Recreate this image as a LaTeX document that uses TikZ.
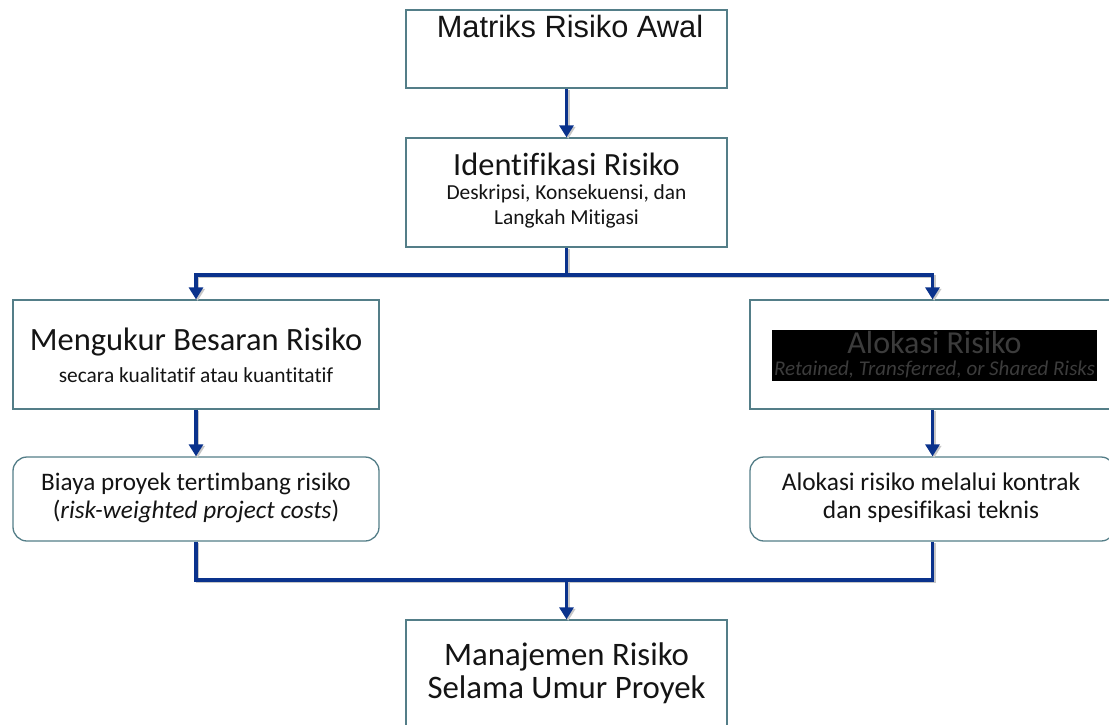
\documentclass[tikz,border=0pt]{standalone}
\usepackage{fontspec}
\setmainfont{Carlito}[Ligatures={NoCommon}]
\newfontfamily\arialfont{Liberation Sans}
\usetikzlibrary{arrows.meta}
\definecolor{flowblue}{RGB}{10,50,140}
\definecolor{boxline}{RGB}{84,126,136}
\definecolor{inktext}{RGB}{20,20,20}
\definecolor{ghost}{RGB}{60,60,60}
\tikzset{
  box/.style={draw=boxline, line width=1.3pt, fill=white, inner sep=0pt},
  rbox/.style={box, rounded corners=14pt},
  flow/.style={draw=flowblue, line width=3.6pt,
    preaction={draw=black!22, line width=3.6pt, transform canvas={shift={(1.6pt,-1.6pt)}}}},
  tip/.style={-{Triangle[length=12pt,width=14pt]}},
  txt/.style={text=inktext, align=center, inner sep=0pt},
}
\begin{document}
\begin{tikzpicture}[x=1pt,y=-1pt]
\useasboundingbox (0,0) rectangle (1109,724);

% boxes
\node[box, minimum width=321pt, minimum height=78pt] (m1) at (566.5,49) {};
\node[txt, font=\arialfont\fontsize{30.8}{34}\selectfont, anchor=base] (t1) at (570,37) {Matriks Risiko Awal};

\node[box, minimum width=321pt, minimum height=109pt] (m2) at (566.5,192.5) {};
\node[txt, font=\fontsize{32.4}{34}\selectfont] (t2) at (566.5,164) {Identifikasi Risiko};
\node[txt, font=\fontsize{21.4}{25}\selectfont] (t2b) at (566.5,206) {Deskripsi, Konsekuensi, dan\\Langkah Mitigasi};

\node[box, minimum width=366pt, minimum height=109pt] (m3) at (196,354.5) {};
\node[txt, font=\fontsize{32.5}{34}\selectfont] (t3) at (196,342) {Mengukur Besaran Risiko};
\node[txt, font=\fontsize{21.4}{24}\selectfont] (t3b) at (196,375) {secara kualitatif atau kuantitatif};

\node[box, minimum width=365pt, minimum height=109pt] (m4) at (932.5,354.5) {};
\fill[black] (772,330) rectangle (1097,381);
\node[txt, text=ghost, font=\fontsize{32}{34}\selectfont] (t4) at (934.5,342) {Alokasi Risiko};
\node[txt, text=ghost, font=\itshape\fontsize{21}{24}\selectfont] (t4b) at (934.5,370) {Retained, Transferred, or Shared Risks};

\node[rbox, minimum width=366pt, minimum height=84pt] (r1) at (196,499) {};
\node[txt, font=\fontsize{25.2}{28}\selectfont] (t5) at (196,498) {Biaya proyek tertimbang risiko\\(\textit{risk-weighted project costs})};

\node[rbox, minimum width=365pt, minimum height=84pt] (r2) at (932.5,499) {};
\node[txt, font=\fontsize{25.4}{28}\selectfont] (t6) at (931,498) {Alokasi risiko melalui kontrak\\dan spesifikasi teknis};

\node[box, minimum width=321pt, minimum height=116pt] (m5) at (566.5,678) {};
\node[txt, font=\fontsize{32.8}{33}\selectfont] (t7) at (566.5,673) {Manajemen Risiko\\Selama Umur Proyek};

% connectors
\coordinate (split) at (566.5,275);
\coordinate (join) at (566.5,580);
\draw[flow, tip] (m1.south) -- (m2.north);
\draw[flow] (m2.south) -- (split);
\draw[flow, tip] (split) -| (m3.north);
\draw[flow, tip] (split) -| (m4.north);
\draw[flow, tip] (m3.south) -- (r1.north);
\draw[flow, tip] (m4.south) -- (r2.north);
\draw[flow] (r1.south) |- (join);
\draw[flow] (r2.south) |- (join);
\draw[flow, tip] (join) -- (m5.north);
\end{tikzpicture}
\end{document}
